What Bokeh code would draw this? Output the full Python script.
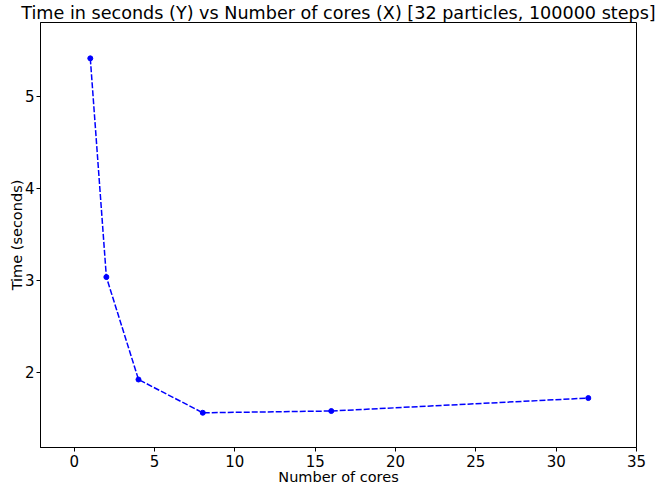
from bokeh.plotting import figure
from bokeh.models import Range1d, FixedTicker
from bokeh.embed import file_html
from bokeh.resources import INLINE

cores = [1, 2, 4, 8, 16, 32]
times = [5.415, 3.035, 1.92, 1.558, 1.577, 1.718]
x_ticks = [0, 5, 10, 15, 20, 25, 30, 35]
y_ticks = [2, 3, 4, 5]

FONT = "DejaVu Sans"

p = figure(width=659, height=487, output_backend="svg", toolbar_location=None,
           x_range=Range1d(-2.1, 35), y_range=Range1d(1.18, 5.805),
           title="Time in seconds (Y) vs Number of cores (X) [32 particles, 100000 steps]",
           min_border_left=40, min_border_right=23, min_border_bottom=37, min_border_top=0)
p.title.text_font = FONT
p.title.text_font_size = "17.6px"
p.title.text_font_style = "normal"
p.title.align = "center"
p.title.text_color = "black"
p.title.offset = 0
p.title.standoff = 0

p.grid.visible = False
p.outline_line_color = "black"
p.outline_line_width = 1
p.background_fill_color = "white"
p.border_fill_color = "white"

for ax in (p.xaxis, p.yaxis):
    ax.axis_line_color = "black"
    ax.major_tick_line_color = "black"
    ax.major_tick_out = 4
    ax.major_tick_in = 0
    ax.minor_tick_line_color = None
    ax.major_label_text_font = FONT
    ax.major_label_text_font_size = "15px"
    ax.major_label_text_color = "black"
    ax.axis_label_text_font = FONT
    ax.axis_label_text_font_size = "14.5px"
    ax.axis_label_text_font_style = "normal"
    ax.axis_label_text_color = "black"

p.xaxis.ticker = FixedTicker(ticks=x_ticks)
p.yaxis.ticker = FixedTicker(ticks=y_ticks)
p.xaxis.axis_label = "Number of cores"
p.yaxis.axis_label = "Time (seconds)"
p.xaxis.major_label_standoff = 3
p.yaxis.major_label_standoff = 2
p.xaxis.axis_label_standoff = -1
p.yaxis.axis_label_standoff = -3

p.line(cores, times, line_color="#0000ff", line_width=1.5, line_dash="6 2")
p.scatter(cores, times, size=5, fill_color="#0000ff", line_color="#0000ff")

open("out.html", "w").write(file_html(p, INLINE))
